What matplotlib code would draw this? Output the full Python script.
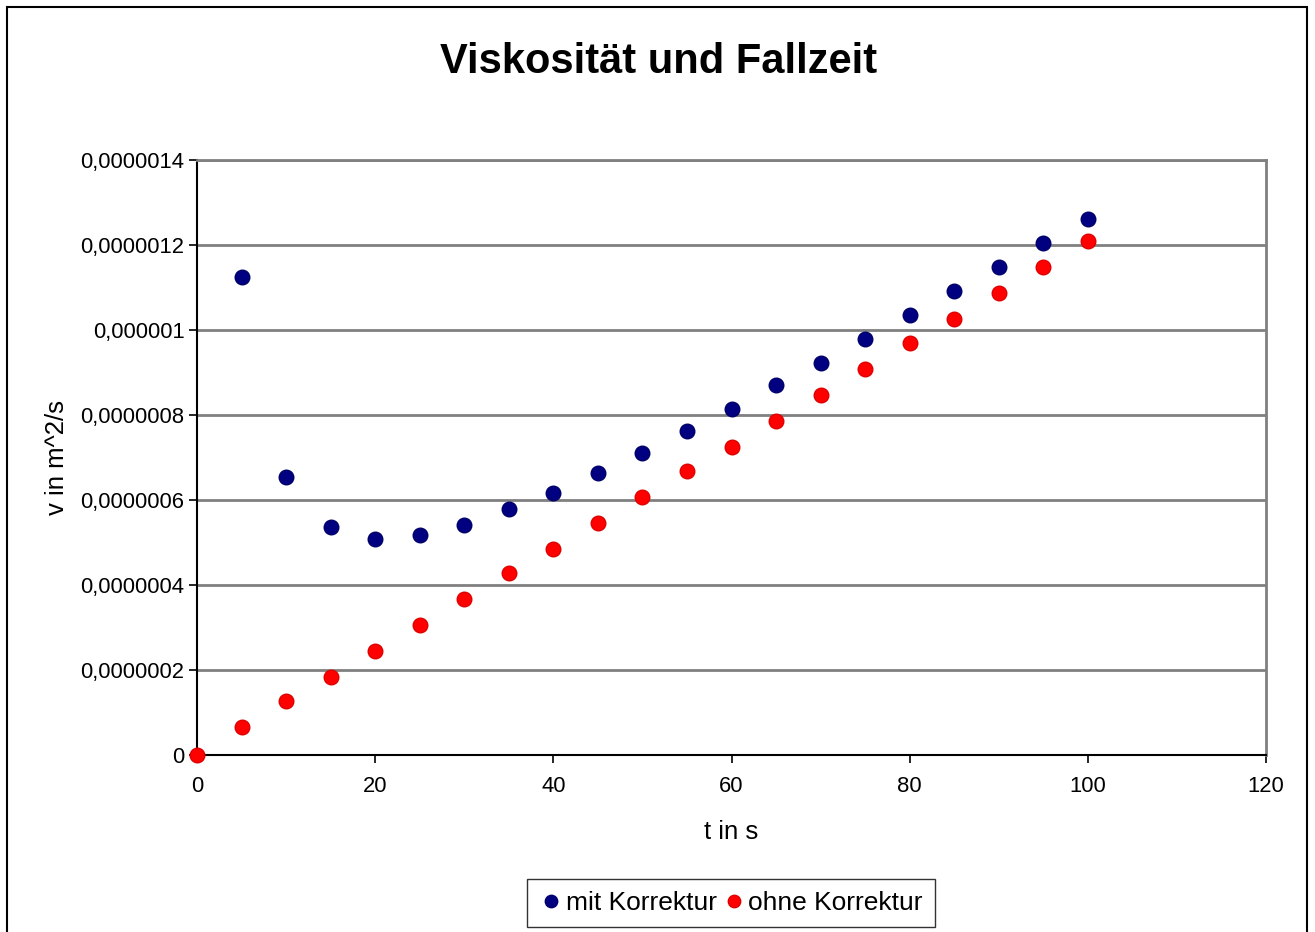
import matplotlib.pyplot as plt
from matplotlib.patches import Rectangle

plt.rcParams['font.family'] = ['Liberation Sans', 'DejaVu Sans']

# Fallzeit in s
t_mit = [5, 10, 15, 20, 25, 30, 35, 40, 45, 50, 55, 60, 65, 70, 75, 80, 85, 90, 95, 100]
v_mit = [1.125e-6, 0.654e-6, 0.536e-6, 0.508e-6, 0.518e-6, 0.541e-6, 0.579e-6, 0.616e-6,
         0.664e-6, 0.711e-6, 0.762e-6, 0.814e-6, 0.871e-6, 0.922e-6, 0.979e-6, 1.035e-6,
         1.092e-6, 1.148e-6, 1.205e-6, 1.261e-6]

t_ohne = [0, 5, 10, 15, 20, 25, 30, 35, 40, 45, 50, 55, 60, 65, 70, 75, 80, 85, 90, 95, 100]
v_ohne = [0.0, 0.066e-6, 0.127e-6, 0.184e-6, 0.245e-6, 0.306e-6, 0.367e-6, 0.428e-6,
          0.485e-6, 0.546e-6, 0.607e-6, 0.668e-6, 0.725e-6, 0.786e-6, 0.847e-6, 0.908e-6,
          0.969e-6, 1.026e-6, 1.087e-6, 1.148e-6, 1.209e-6]

y_ticks = [0, 2e-7, 4e-7, 6e-7, 8e-7, 1e-6, 1.2e-6, 1.4e-6]
y_labels = ['0', '0,0000002', '0,0000004', '0,0000006', '0,0000008',
            '0,000001', '0,0000012', '0,0000014']

fig = plt.figure(figsize=(13.15, 9.32), dpi=100)
ax = fig.add_axes([197 / 1315, 1 - 755 / 932, (1266 - 197) / 1315, (755 - 160) / 932])

ax.plot(t_mit, v_mit, 'o', color='#000080', markersize=10.5, markeredgecolor='#00006a',
        label='mit Korrektur', clip_on=False, zorder=3)
ax.plot(t_ohne, v_ohne, 'o', color='#ff0000', markersize=10.5, markeredgecolor='#e00000',
        label='ohne Korrektur', clip_on=False, zorder=3)

ax.set_xlim(0, 120)
ax.set_ylim(0, 1.4e-6)
ax.set_xticks(range(0, 121, 20))
ax.set_yticks(y_ticks)
ax.set_yticklabels(y_labels)
ax.tick_params(labelsize=15.8, length=6, width=1.2, direction='out', color='black')
ax.tick_params(axis='x', pad=9)
ax.tick_params(axis='y', pad=3)

ax.grid(axis='y', color='#808080', linewidth=2)
ax.set_axisbelow(True)
for s in ['top', 'right']:
    ax.spines[s].set_color('#808080')
    ax.spines[s].set_linewidth(2)
for s in ['left', 'bottom']:
    ax.spines[s].set_color('black')
    ax.spines[s].set_linewidth(1.5)

ax.set_xlabel('t in s', fontsize=18.5, labelpad=17)
ax.set_ylabel('v in m^2/s', fontsize=18.5, labelpad=8)
fig.text(659 / 1315, 1 - 62 / 932, 'Viskosität und Fallzeit', fontsize=30,
         fontweight='bold', ha='center', va='center')

fig.legend(loc='center', bbox_to_anchor=(731 / 1315, 1 - 903 / 932), ncol=2,
           fontsize=19, frameon=True, fancybox=False, edgecolor='black',
           handletextpad=0.1, columnspacing=0.2, borderpad=0.45,
           handlelength=0.9, markerscale=0.85)

fig.patches.append(Rectangle((7 / 1315, -0.01), 1300 / 1315, 1 - 7 / 932 + 0.01,
                             transform=fig.transFigure, fill=False,
                             edgecolor='black', linewidth=1.5))

fig.savefig('out.png', dpi=100, facecolor='white')
